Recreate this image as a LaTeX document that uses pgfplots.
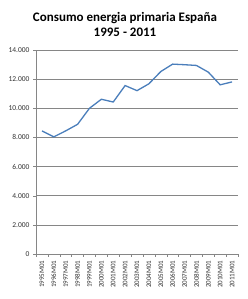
\documentclass[border=0pt]{standalone}
\usepackage{pgfplots}
\pgfplotsset{compat=1.18}
\usepackage{fontspec}
\setmainfont{Carlito}
\definecolor{exblue}{RGB}{74,126,187}
\definecolor{gridg}{RGB}{134,134,134}
\begin{document}
\begin{tikzpicture}[x=1pt,y=1pt]
\path[use as bounding box, fill=white] (0,0) rectangle (248,299);
\node[font=\bfseries\fontsize{13}{15}\selectfont, align=center] at (125,275) {Consumo energia primaria España\\1995 - 2011};
\begin{axis}[
  at={(36pt,45pt)}, anchor=south west,
  scale only axis, width=202pt, height=204pt,
  xmin=-0.5, xmax=16.5, ymin=0, ymax=14000,
  ytick={0,2000,...,14000},
  scaled y ticks=false,
  yticklabel={\pgfmathprintnumber[fixed, 1000 sep={.}, assume math mode=true]{\tick}},
  yticklabel style={font=\fontsize{7.5}{8}\selectfont, text=black!80},
  xtick={0,...,16},
  xticklabels={1995M01,1996M01,1997M01,1998M01,1999M01,2000M01,2001M01,2002M01,2003M01,2004M01,2005M01,2006M01,2007M01,2008M01,2009M01,2010M01,2011M01},
  xticklabel style={rotate=90, anchor=east, font=\fontsize{7}{8}\selectfont, text=black!80},
  minor xtick={-0.5,0.5,...,16.5},
  major x tick style={draw=none},
  minor tick length=3pt, major tick length=3pt,
  tick align=outside,
  axis x line*=bottom, axis y line*=left,
  axis line style={gridg, -},
  every tick/.style={gridg},
  ymajorgrids, grid style={gridg, line width=0.5pt},
  tick pos=left,
]
\addplot[exblue, line width=1.3pt, no marks] coordinates {
(0,8450) (1,8040) (2,8450) (3,8900) (4,10000) (5,10620) (6,10430) (7,11560) (8,11210) (9,11680) (10,12520) (11,13030) (12,12990) (13,12940) (14,12480) (15,11610) (16,11810)
};
\end{axis}
\end{tikzpicture}
\end{document}
